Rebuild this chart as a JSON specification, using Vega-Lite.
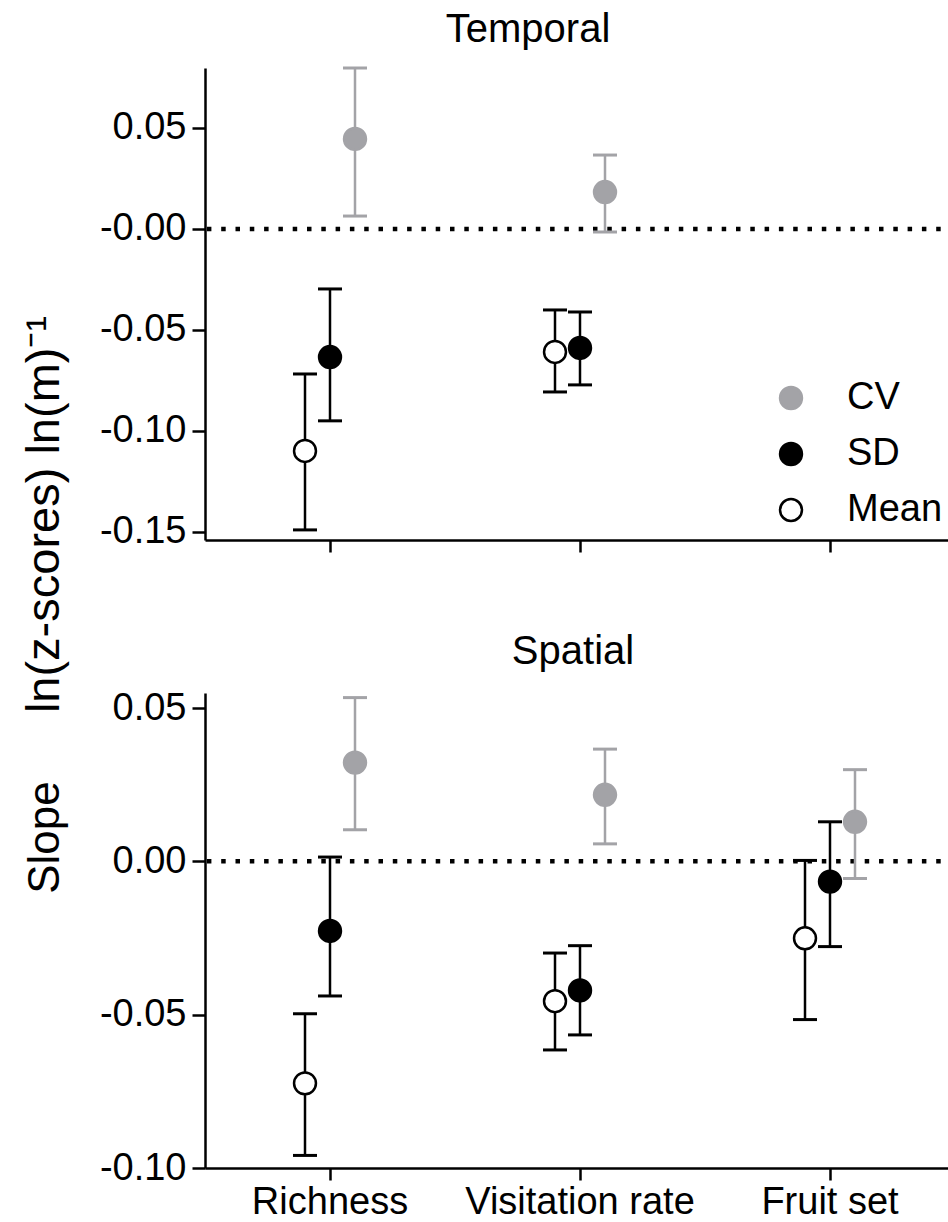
{
  "$schema": "https://vega.github.io/schema/vega-lite/v6.json",
  "autosize": {"type": "none"},
  "padding": {"left": 205, "top": 68, "right": 743, "bottom": 1154},
  "config": {
    "font": "Liberation Sans",
    "view": {"stroke": null},
    "axis": {"domainColor": "black", "domainWidth": 2.5, "tickColor": "black", "tickWidth": 2.5, "labelColor": "black", "labelFont": "Liberation Sans", "labelFontSize": 38, "labelLimit": 0, "titleColor": "black", "titleFont": "Liberation Sans", "titleFontWeight": "normal", "grid": false},
    "title": {"fontSize": 40, "fontWeight": "normal", "color": "black", "font": "Liberation Sans", "baseline": "alphabetic", "frame": "group", "offset": 17}
  },
  "datasets": {
    "temporal": [
      {"category": "Richness", "series": "Mean", "val": -0.1099, "lo": -0.149, "hi": -0.0718},
      {"category": "Richness", "series": "SD", "val": -0.0634, "lo": -0.095, "hi": -0.0297},
      {"category": "Richness", "series": "CV", "val": 0.0446, "lo": 0.0064, "hi": 0.0797},
      {"category": "Visitation rate", "series": "Mean", "val": -0.0609, "lo": -0.0807, "hi": -0.0401},
      {"category": "Visitation rate", "series": "SD", "val": -0.0589, "lo": -0.0772, "hi": -0.0411},
      {"category": "Visitation rate", "series": "CV", "val": 0.0183, "lo": -0.0015, "hi": 0.0366}
    ],
    "spatial": [
      {"category": "Richness", "series": "Mean", "val": -0.0724, "lo": -0.0959, "hi": -0.0497},
      {"category": "Richness", "series": "SD", "val": -0.0227, "lo": -0.0439, "hi": 0.0014},
      {"category": "Richness", "series": "CV", "val": 0.0322, "lo": 0.0103, "hi": 0.0534},
      {"category": "Visitation rate", "series": "Mean", "val": -0.0456, "lo": -0.0615, "hi": -0.0299},
      {"category": "Visitation rate", "series": "SD", "val": -0.0421, "lo": -0.0566, "hi": -0.0275},
      {"category": "Visitation rate", "series": "CV", "val": 0.0217, "lo": 0.0057, "hi": 0.0366},
      {"category": "Fruit set", "series": "Mean", "val": -0.0251, "lo": -0.0516, "hi": 0.0003},
      {"category": "Fruit set", "series": "SD", "val": -0.0066, "lo": -0.0278, "hi": 0.0129},
      {"category": "Fruit set", "series": "CV", "val": 0.0129, "lo": -0.0056, "hi": 0.0299}
    ]
  },
  "spacing": 153,
  "bounds": "flush",
  "resolve": {"legend": {"fill": "independent", "stroke": "independent"}},
  "vconcat": [
    {
      "title": {"text": "Temporal", "dx": -52},
      "width": 750,
      "height": 472,
      "data": {"name": "temporal"},
      "layer": [
        {
          "data": {"values": [{"z": 0}]},
          "mark": {"type": "rule", "color": "black", "strokeWidth": 4.5, "strokeDash": [4.5, 9.8]},
          "encoding": {
            "y": {"field": "z", "type": "quantitative", "scale": {"domain": [-0.154, 0.0797], "nice": false, "zero": false}, "axis": {"values": [-0.15, -0.1, -0.05, 0, 0.05], "labelExpr": "datum.value == 0 ? '-0.00' : replace(format(datum.value, '.2f'), '\u2212', '-')", "title": "ln(z-scores) ln(m)\u207b\u00b9", "titleX": -147, "titleY": 446, "titleFontSize": 47, "titleBaseline": "alphabetic", "titleAlign": "center", "titleAngle": -90, "tickSize": 13, "labelPadding": 6}}
          }
        },
        {
          "mark": {"type": "rule", "strokeWidth": 2.5},
          "encoding": {
            "x": {"field": "category", "type": "nominal", "scale": {"domain": ["Richness", "Visitation rate", "Fruit set"], "paddingInner": 0, "paddingOuter": 0}, "axis": {"title": null, "labels": false, "tickSize": 12}},
            "xOffset": {"field": "series", "type": "nominal", "scale": {"domain": ["p1", "p2", "p3", "Mean", "SD", "CV", "p4", "p5", "p6"], "paddingInner": 0, "paddingOuter": 0.5}},
            "y": {"field": "lo", "type": "quantitative", "scale": {"domain": [-0.154, 0.0797], "nice": false, "zero": false}, "axis": {"values": [-0.15, -0.1, -0.05, 0, 0.05], "labelExpr": "datum.value == 0 ? '-0.00' : replace(format(datum.value, '.2f'), '\u2212', '-')", "title": "ln(z-scores) ln(m)\u207b\u00b9", "titleX": -147, "titleY": 446, "titleFontSize": 47, "titleBaseline": "alphabetic", "titleAlign": "center", "titleAngle": -90, "tickSize": 13, "labelPadding": 6}},
            "y2": {"field": "hi"},
            "color": {"field": "series", "type": "nominal", "scale": {"domain": ["CV", "SD", "Mean"], "range": ["#a3a3a7", "black", "black"]}, "legend": null}
          }
        },
        {
          "mark": {"type": "tick", "size": 24, "thickness": 3, "opacity": 1},
          "encoding": {
            "x": {"field": "category", "type": "nominal", "scale": {"domain": ["Richness", "Visitation rate", "Fruit set"], "paddingInner": 0, "paddingOuter": 0}, "axis": {"title": null, "labels": false, "tickSize": 12}},
            "xOffset": {"field": "series", "type": "nominal", "scale": {"domain": ["p1", "p2", "p3", "Mean", "SD", "CV", "p4", "p5", "p6"], "paddingInner": 0, "paddingOuter": 0.5}},
            "y": {"field": "lo", "type": "quantitative", "scale": {"domain": [-0.154, 0.0797], "nice": false, "zero": false}, "axis": {"values": [-0.15, -0.1, -0.05, 0, 0.05], "labelExpr": "datum.value == 0 ? '-0.00' : replace(format(datum.value, '.2f'), '\u2212', '-')", "title": "ln(z-scores) ln(m)\u207b\u00b9", "titleX": -147, "titleY": 446, "titleFontSize": 47, "titleBaseline": "alphabetic", "titleAlign": "center", "titleAngle": -90, "tickSize": 13, "labelPadding": 6}},
            "color": {"field": "series", "type": "nominal", "scale": {"domain": ["CV", "SD", "Mean"], "range": ["#a3a3a7", "black", "black"]}, "legend": null}
          }
        },
        {
          "mark": {"type": "tick", "size": 24, "thickness": 3, "opacity": 1},
          "encoding": {
            "x": {"field": "category", "type": "nominal", "scale": {"domain": ["Richness", "Visitation rate", "Fruit set"], "paddingInner": 0, "paddingOuter": 0}, "axis": {"title": null, "labels": false, "tickSize": 12}},
            "xOffset": {"field": "series", "type": "nominal", "scale": {"domain": ["p1", "p2", "p3", "Mean", "SD", "CV", "p4", "p5", "p6"], "paddingInner": 0, "paddingOuter": 0.5}},
            "y": {"field": "hi", "type": "quantitative", "scale": {"domain": [-0.154, 0.0797], "nice": false, "zero": false}, "axis": {"values": [-0.15, -0.1, -0.05, 0, 0.05], "labelExpr": "datum.value == 0 ? '-0.00' : replace(format(datum.value, '.2f'), '\u2212', '-')", "title": "ln(z-scores) ln(m)\u207b\u00b9", "titleX": -147, "titleY": 446, "titleFontSize": 47, "titleBaseline": "alphabetic", "titleAlign": "center", "titleAngle": -90, "tickSize": 13, "labelPadding": 6}},
            "color": {"field": "series", "type": "nominal", "scale": {"domain": ["CV", "SD", "Mean"], "range": ["#a3a3a7", "black", "black"]}, "legend": null}
          }
        },
        {
          "mark": {"type": "point", "shape": "circle", "filled": true, "size": 480, "strokeWidth": 2.5, "opacity": 1},
          "encoding": {
            "x": {"field": "category", "type": "nominal", "scale": {"domain": ["Richness", "Visitation rate", "Fruit set"], "paddingInner": 0, "paddingOuter": 0}, "axis": {"title": null, "labels": false, "tickSize": 12}},
            "xOffset": {"field": "series", "type": "nominal", "scale": {"domain": ["p1", "p2", "p3", "Mean", "SD", "CV", "p4", "p5", "p6"], "paddingInner": 0, "paddingOuter": 0.5}},
            "y": {"field": "val", "type": "quantitative", "scale": {"domain": [-0.154, 0.0797], "nice": false, "zero": false}, "axis": {"values": [-0.15, -0.1, -0.05, 0, 0.05], "labelExpr": "datum.value == 0 ? '-0.00' : replace(format(datum.value, '.2f'), '\u2212', '-')", "title": "ln(z-scores) ln(m)\u207b\u00b9", "titleX": -147, "titleY": 446, "titleFontSize": 47, "titleBaseline": "alphabetic", "titleAlign": "center", "titleAngle": -90, "tickSize": 13, "labelPadding": 6}},
            "fill": {"field": "series", "type": "nominal", "scale": {"domain": ["CV", "SD", "Mean"], "range": ["#a3a3a7", "black", "white"]}, "legend": {"title": null, "orient": "none", "legendX": 567, "legendY": 311, "symbolType": "circle", "symbolSize": 480, "symbolStrokeWidth": 2.5, "symbolOpacity": 1, "labelFontSize": 38, "labelColor": "black", "labelFont": "Liberation Sans", "labelOffset": 37, "rowPadding": 18}},
            "stroke": {"field": "series", "type": "nominal", "scale": {"domain": ["CV", "SD", "Mean"], "range": ["#a3a3a7", "black", "black"]}, "legend": {"title": null, "orient": "none", "legendX": 567, "legendY": 311, "symbolType": "circle", "symbolSize": 480, "symbolStrokeWidth": 2.5, "symbolOpacity": 1, "labelFontSize": 38, "labelColor": "black", "labelFont": "Liberation Sans", "labelOffset": 37, "rowPadding": 18}}
          }
        }
      ]
    },
    {
      "title": {"text": "Spatial", "dx": -7},
      "width": 750,
      "height": 475,
      "data": {"name": "spatial"},
      "layer": [
        {
          "data": {"values": [{"z": 0}]},
          "mark": {"type": "rule", "color": "black", "strokeWidth": 4.5, "strokeDash": [4.5, 9.8]},
          "encoding": {
            "y": {"field": "z", "type": "quantitative", "scale": {"domain": [-0.1, 0.0549], "nice": false, "zero": false}, "axis": {"values": [-0.1, -0.05, 0, 0.05], "labelExpr": "replace(format(datum.value, '.2f'), '\u2212', '-')", "title": "Slope", "titleX": -147, "titleY": 144, "titleFontSize": 44, "titleBaseline": "alphabetic", "titleAlign": "center", "titleAngle": -90, "tickSize": 13, "labelPadding": 6}}
          }
        },
        {
          "mark": {"type": "rule", "strokeWidth": 2.5},
          "encoding": {
            "x": {"field": "category", "type": "nominal", "scale": {"domain": ["Richness", "Visitation rate", "Fruit set"], "paddingInner": 0, "paddingOuter": 0}, "axis": {"title": null, "labelAngle": 0, "labelFontSize": 38, "labelPadding": 3, "tickSize": 12}},
            "xOffset": {"field": "series", "type": "nominal", "scale": {"domain": ["p1", "p2", "p3", "Mean", "SD", "CV", "p4", "p5", "p6"], "paddingInner": 0, "paddingOuter": 0.5}},
            "y": {"field": "lo", "type": "quantitative", "scale": {"domain": [-0.1, 0.0549], "nice": false, "zero": false}, "axis": {"values": [-0.1, -0.05, 0, 0.05], "labelExpr": "replace(format(datum.value, '.2f'), '\u2212', '-')", "title": "Slope", "titleX": -147, "titleY": 144, "titleFontSize": 44, "titleBaseline": "alphabetic", "titleAlign": "center", "titleAngle": -90, "tickSize": 13, "labelPadding": 6}},
            "y2": {"field": "hi"},
            "color": {"field": "series", "type": "nominal", "scale": {"domain": ["CV", "SD", "Mean"], "range": ["#a3a3a7", "black", "black"]}, "legend": null}
          }
        },
        {
          "mark": {"type": "tick", "size": 24, "thickness": 3, "opacity": 1},
          "encoding": {
            "x": {"field": "category", "type": "nominal", "scale": {"domain": ["Richness", "Visitation rate", "Fruit set"], "paddingInner": 0, "paddingOuter": 0}, "axis": {"title": null, "labelAngle": 0, "labelFontSize": 38, "labelPadding": 3, "tickSize": 12}},
            "xOffset": {"field": "series", "type": "nominal", "scale": {"domain": ["p1", "p2", "p3", "Mean", "SD", "CV", "p4", "p5", "p6"], "paddingInner": 0, "paddingOuter": 0.5}},
            "y": {"field": "lo", "type": "quantitative", "scale": {"domain": [-0.1, 0.0549], "nice": false, "zero": false}, "axis": {"values": [-0.1, -0.05, 0, 0.05], "labelExpr": "replace(format(datum.value, '.2f'), '\u2212', '-')", "title": "Slope", "titleX": -147, "titleY": 144, "titleFontSize": 44, "titleBaseline": "alphabetic", "titleAlign": "center", "titleAngle": -90, "tickSize": 13, "labelPadding": 6}},
            "color": {"field": "series", "type": "nominal", "scale": {"domain": ["CV", "SD", "Mean"], "range": ["#a3a3a7", "black", "black"]}, "legend": null}
          }
        },
        {
          "mark": {"type": "tick", "size": 24, "thickness": 3, "opacity": 1},
          "encoding": {
            "x": {"field": "category", "type": "nominal", "scale": {"domain": ["Richness", "Visitation rate", "Fruit set"], "paddingInner": 0, "paddingOuter": 0}, "axis": {"title": null, "labelAngle": 0, "labelFontSize": 38, "labelPadding": 3, "tickSize": 12}},
            "xOffset": {"field": "series", "type": "nominal", "scale": {"domain": ["p1", "p2", "p3", "Mean", "SD", "CV", "p4", "p5", "p6"], "paddingInner": 0, "paddingOuter": 0.5}},
            "y": {"field": "hi", "type": "quantitative", "scale": {"domain": [-0.1, 0.0549], "nice": false, "zero": false}, "axis": {"values": [-0.1, -0.05, 0, 0.05], "labelExpr": "replace(format(datum.value, '.2f'), '\u2212', '-')", "title": "Slope", "titleX": -147, "titleY": 144, "titleFontSize": 44, "titleBaseline": "alphabetic", "titleAlign": "center", "titleAngle": -90, "tickSize": 13, "labelPadding": 6}},
            "color": {"field": "series", "type": "nominal", "scale": {"domain": ["CV", "SD", "Mean"], "range": ["#a3a3a7", "black", "black"]}, "legend": null}
          }
        },
        {
          "mark": {"type": "point", "shape": "circle", "filled": true, "size": 480, "strokeWidth": 2.5, "opacity": 1},
          "encoding": {
            "x": {"field": "category", "type": "nominal", "scale": {"domain": ["Richness", "Visitation rate", "Fruit set"], "paddingInner": 0, "paddingOuter": 0}, "axis": {"title": null, "labelAngle": 0, "labelFontSize": 38, "labelPadding": 3, "tickSize": 12}},
            "xOffset": {"field": "series", "type": "nominal", "scale": {"domain": ["p1", "p2", "p3", "Mean", "SD", "CV", "p4", "p5", "p6"], "paddingInner": 0, "paddingOuter": 0.5}},
            "y": {"field": "val", "type": "quantitative", "scale": {"domain": [-0.1, 0.0549], "nice": false, "zero": false}, "axis": {"values": [-0.1, -0.05, 0, 0.05], "labelExpr": "replace(format(datum.value, '.2f'), '\u2212', '-')", "title": "Slope", "titleX": -147, "titleY": 144, "titleFontSize": 44, "titleBaseline": "alphabetic", "titleAlign": "center", "titleAngle": -90, "tickSize": 13, "labelPadding": 6}},
            "fill": {"field": "series", "type": "nominal", "scale": {"domain": ["CV", "SD", "Mean"], "range": ["#a3a3a7", "black", "white"]}, "legend": null},
            "stroke": {"field": "series", "type": "nominal", "scale": {"domain": ["CV", "SD", "Mean"], "range": ["#a3a3a7", "black", "black"]}, "legend": null}
          }
        }
      ]
    }
  ]
}
